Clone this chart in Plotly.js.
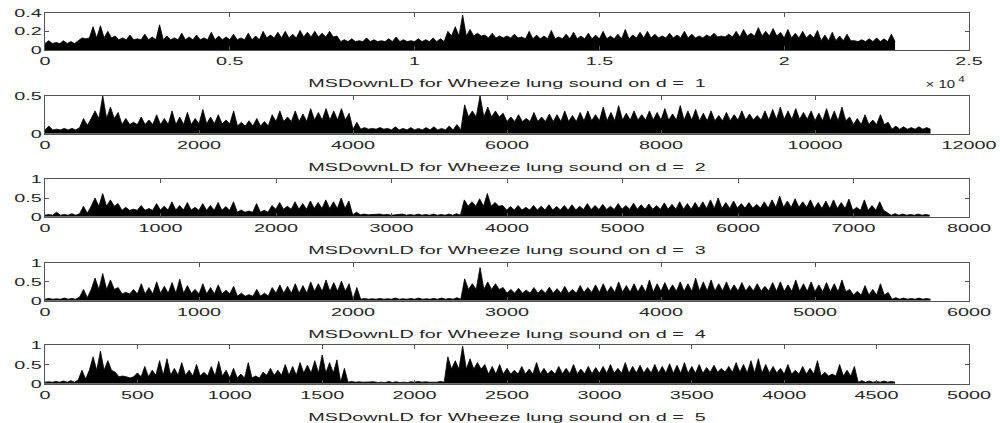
<!DOCTYPE html>
<html>
<head>
<meta charset="utf-8">
<script src="https://cdn.plot.ly/plotly-3.0.1.min.js"></script>
<style>
html,body{margin:0;padding:0;background:#fff;}
#chart{width:1000px;height:423px;}
</style>
</head>
<body>
<div id="chart"></div>
<script>
// ---- data ----
const levels = [1, 2, 3, 4, 5];
const lengths = [23000, 11500, 7660, 5750, 4600];
const xMax = [25000, 12000, 8000, 6000, 5000];
const xStep = [5000, 2000, 1000, 1000, 500];
const yMax = [0.4, 0.5, 1, 1, 1];
const yTicks1 = [0, 0.2, 0.4];
const yTicks2 = [0, 0.5];
const yTicks3 = [0, 0.5, 1];
const xTickVals1 = [0, 5000, 10000, 15000, 20000, 25000];
const xTickText1 = ["0", "0.5", "1", "1.5", "2", "2.5"];

// spike heights (peak per bin, 115 bins per panel)
const d1 = [0.1,0.08,0.1,0.09,0.1,0.12,
 0.25,0.26,0.2,
 0.15,0.13,0.16,0.12,0.17,0.14,0.27,0.15,0.13,0.18,0.14,0.16,0.13,0.19,0.15,0.14,0.17,0.13,0.18,0.15,0.2,0.16,0.19,
 0.2,0.17,0.21,0.19,0.2,0.18,0.2,0.15,
 0.11,0.12,0.1,0.13,0.11,0.1,0.12,0.14,0.11,0.1,0.12,0.11,0.13,0.12,
 0.2,0.25,0.375,
 0.22,0.18,0.16,0.18,0.15,
 0.15,0.17,0.14,0.2,0.16,0.15,0.21,0.14,0.17,0.19,0.15,0.18,0.16,0.2,0.15,0.17,0.22,0.16,0.19,0.2,0.17,0.15,0.18,0.16,0.2,0.17,0.15,0.16,0.18,0.15,0.17,
 0.2,0.22,0.18,0.24,0.2,0.23,0.19,0.22,0.18,0.2,0.17,0.21,0.16,0.19,
 0.15,0.17,0.1,0.11,0.12,0.13,0.12,0.17];

const d2 = [0.1,0.06,0.07,0.07,0.08,0.11,
 0.3,0.5,0.35,0.28,0.2,0.15,0.22,0.18,0.25,0.2,0.3,0.22,0.28,0.2,0.32,0.22,0.25,0.18,0.3,0.15,0.17,0.2,0.16,0.25,0.3,0.22,0.3,0.26,0.33,0.28,0.33,0.3,0.33,0.27,0.15,
 0.08,0.07,0.08,0.07,0.09,0.07,0.08,0.07,0.08,0.09,0.07,0.1,0.12,
 0.38,0.3,0.5,0.35,0.3,0.27,0.22,0.25,0.2,0.28,0.22,0.26,0.25,0.3,0.24,0.28,0.3,0.25,0.35,0.28,0.37,0.27,0.3,0.25,0.3,0.28,0.33,0.26,0.37,0.3,0.32,0.27,0.3,0.24,0.28,0.25,0.3,0.26,0.24,0.3,0.32,0.35,0.3,0.33,0.28,0.3,0.27,0.33,0.3,0.35,0.22,0.2,0.25,0.18,0.25,0.15,0.1,0.09,0.08,0.09,0.08];

const d3 = [0.06,0.12,0.06,0.08,0.08,0.09,
 0.5,0.62,0.45,
 0.35,0.25,0.2,0.3,0.22,0.35,0.28,0.4,0.3,0.38,0.25,0.35,0.3,0.38,0.27,0.4,
 0.18,0.15,0.35,0.17,
 0.3,0.38,0.28,0.4,0.35,0.42,0.38,0.45,0.4,0.5,0.42,
 0.12,
 0.07,0.06,0.07,0.06,0.05,0.07,0.06,0.07,0.06,0.07,0.06,0.07,0.08,
 0.45,0.4,0.48,0.62,0.38,
 0.3,0.27,0.3,0.25,0.3,0.28,0.32,0.27,0.3,
 0.32,0.28,0.35,0.3,0.33,0.28,0.35,0.3,0.36,0.32,0.34,0.3,0.37,0.33,0.4,0.35,0.38,
 0.4,0.45,0.5,0.38,0.42,0.35,0.38,0.33,
 0.4,0.45,0.55,0.42,0.48,0.4,0.45,0.38,0.42,0.45,0.38,0.47,
 0.25,0.45,0.3,0.4,
 0.1,0.08,0.07,0.06,0.07,0.06];

const d4 = [0.06,0.05,0.07,0.06,0.1,0.08,
 0.6,0.72,0.55,
 0.35,0.22,0.3,
 0.45,0.35,0.5,0.38,0.48,0.57,
 0.4,0.3,0.45,0.35,0.42,0.28,0.38,
 0.2,0.16,0.3,0.2,
 0.35,0.42,0.38,0.45,0.4,0.5,0.45,0.55,0.48,0.52,0.45,0.35,
 0.06,0.05,0.06,0.05,0.07,0.05,0.06,0.07,0.05,0.06,0.07,0.06,0.08,
 0.58,0.45,0.88,0.5,0.45,
 0.35,0.3,0.33,0.28,0.35,0.3,0.36,0.32,0.38,0.3,0.4,0.35,0.42,
 0.45,0.38,0.5,0.4,0.45,0.42,0.55,0.45,0.48,0.42,0.5,0.45,0.6,
 0.5,0.55,0.45,0.5,0.42,0.48,0.4,0.45,0.38,
 0.48,0.5,0.42,0.55,0.45,0.5,0.42,0.48,0.45,0.55,
 0.3,0.25,0.4,0.3,0.45,0.22,
 0.08,0.07,0.06,0.07,0.06];

const d5 = [0.05,0.06,0.07,0.08,0.1,0.12,
 0.7,0.85,0.6,
 0.3,0.2,0.15,0.28,
 0.45,0.35,0.6,0.65,0.4,0.55,0.35,0.5,0.3,0.45,0.58,0.35,0.4,
 0.25,0.55,0.2,0.3,
 0.4,0.35,0.5,0.45,0.55,0.48,0.6,0.75,0.55,0.62,0.4,
 0.06,0.05,0.04,0.05,0.04,0.06,0.05,0.04,0.05,0.06,0.05,0.04,0.06,
 0.7,0.6,0.98,0.65,0.55,0.5,0.45,0.5,
 0.4,0.35,0.45,0.38,0.55,0.4,0.35,0.45,0.4,0.5,0.38,0.45,0.42,
 0.45,0.5,0.4,0.55,0.45,0.48,0.42,0.5,0.45,0.52,0.48,0.55,0.45,0.5,0.42,0.48,0.4,0.45,
 0.55,0.5,0.6,0.65,0.5,
 0.45,0.4,0.5,0.35,0.45,0.4,0.6,
 0.3,0.25,0.5,0.35,0.45,
 0.08,0.07,0.06,0.07,0.06];

// dense body level between spikes, one value per 5 bins (23 per panel)
const b1 = [0.07,0.13,0.11,0.11,0.11,0.11,0.13,0.14,0.09,0.09,0.09,0.15,0.13,0.12,0.12,0.12,0.13,0.13,0.14,0.15,0.13,0.1,0.09];
const b2 = [0.05,0.2,0.12,0.12,0.13,0.1,0.16,0.18,0.06,0.05,0.05,0.22,0.16,0.16,0.17,0.18,0.18,0.17,0.18,0.19,0.17,0.12,0.06];
const b3 = [0.04,0.28,0.17,0.18,0.17,0.12,0.2,0.22,0.05,0.04,0.04,0.28,0.18,0.18,0.19,0.2,0.2,0.22,0.23,0.25,0.22,0.17,0.04];
const b4 = [0.04,0.3,0.18,0.2,0.18,0.12,0.2,0.25,0.04,0.04,0.04,0.3,0.2,0.2,0.22,0.23,0.25,0.26,0.26,0.25,0.24,0.15,0.04];
const b5 = [0.04,0.35,0.18,0.22,0.2,0.15,0.22,0.28,0.04,0.03,0.04,0.38,0.25,0.25,0.26,0.27,0.28,0.27,0.3,0.28,0.25,0.2,0.04];

const series = [d1, d2, d3, d4, d5];
const bodies = [b1, b2, b3, b4, b5];

// ---- layout ----
const H = 423;
const panelPx = [[12.7, 50], [95.7, 133.7], [179.3, 216.7], [263, 300.7], [345.3, 383.7]];
const fontFam = '"Liberation Sans", Arial, Helvetica, sans-serif';
const txtCol = '#262626';
const FS = 11.5;

const traces = [];
const layout = {
  width: 1000, height: 423,
  margin: {l: 45, r: 31, t: 0, b: 0},
  paper_bgcolor: '#fff', plot_bgcolor: '#fff',
  showlegend: false,
  font: {family: fontFam, size: FS, color: txtCol},
  annotations: []
};

series.forEach((vals, k) => {
  const n = k + 1;
  const xa = n === 1 ? 'x' : 'x' + n;
  const ya = n === 1 ? 'y' : 'y' + n;
  const dx = lengths[k] / vals.length;
  const body = bodies[k];
  // signal: each bin rises to its spike height, then falls back to the body level
  const xs = [], ys = [];
  vals.forEach((v, i) => {
    xs.push(i * dx);            ys.push(body[Math.floor(i / 5)]);
    xs.push((i + 0.5) * dx);    ys.push(v);
  });
  xs.push(lengths[k]); ys.push(body[body.length - 1]);
  traces.push({
    type: 'scatter', mode: 'lines',
    x: xs, y: ys,
    xaxis: xa, yaxis: ya,
    line: {color: '#000', width: 0.8},
    fill: 'tozeroy', fillcolor: '#000', hoverinfo: 'skip'
  });
  const [top, bot] = panelPx[k];
  const axCommon = {
    showline: true, linecolor: '#555', linewidth: 1, mirror: 'ticks',
    ticks: 'inside', ticklen: 4, tickcolor: '#555', tickwidth: 1,
    showgrid: false, zeroline: false, fixedrange: true,
    tickfont: {family: fontFam, size: FS, color: txtCol}
  };
  const xAxis = Object.assign({}, axCommon, {
    domain: [0, 1], anchor: ya, range: [0, xMax[k]],
    title: {text: 'MSDownLD for Wheeze lung sound on d = \u00a0' + levels[k],
            font: {family: fontFam, size: FS, color: txtCol}, standoff: 13},
    automargin: false
  });
  if (k === 0) {
    xAxis.tickmode = 'array'; xAxis.tickvals = xTickVals1; xAxis.ticktext = xTickText1;
  } else {
    xAxis.tickmode = 'linear'; xAxis.tick0 = 0; xAxis.dtick = xStep[k];
    xAxis.tickformat = 'd';
  }
  const yt = k === 0 ? yTicks1 : (k === 1 ? yTicks2 : yTicks3);
  const yAxis = Object.assign({}, axCommon, {
    domain: [1 - bot / H, 1 - top / H], anchor: xa, range: [0, yMax[k]],
    tickmode: 'array', tickvals: yt, ticktext: yt.map(String)
  });
  layout[n === 1 ? 'xaxis' : 'xaxis' + n] = xAxis;
  layout[n === 1 ? 'yaxis' : 'yaxis' + n] = yAxis;
});

// MATLAB-style exponent label of the first x axis
layout.annotations.push({
  xref: 'paper', yref: 'paper', x: 895 / 924, y: 1 - 84 / H,
  xanchor: 'center', yanchor: 'middle', showarrow: false,
  text: '\u00d7 10', font: {family: fontFam, size: 11.5, color: txtCol}
});
layout.annotations.push({
  xref: 'paper', yref: 'paper', x: 916 / 924, y: 1 - 79 / H,
  xanchor: 'center', yanchor: 'middle', showarrow: false,
  text: '4', font: {family: fontFam, size: 9, color: txtCol}
});

Plotly.newPlot('chart', traces, layout, {staticPlot: true, displayModeBar: false}).then(() => {
  // widen glyphs horizontally, as in the (horizontally stretched) reference
  document.querySelectorAll('#chart svg text').forEach(el => {
    if (el.querySelector('tspan')) return;
    const S = el.classList.contains('annotation-text') ? 1.3 : 1.72;
    const w = el.getComputedTextLength();
    if (w > 0) {
      el.setAttribute('textLength', (w * S).toFixed(1));
      el.setAttribute('lengthAdjust', 'spacingAndGlyphs');
    }
  });
});
</script>
</body>
</html>
